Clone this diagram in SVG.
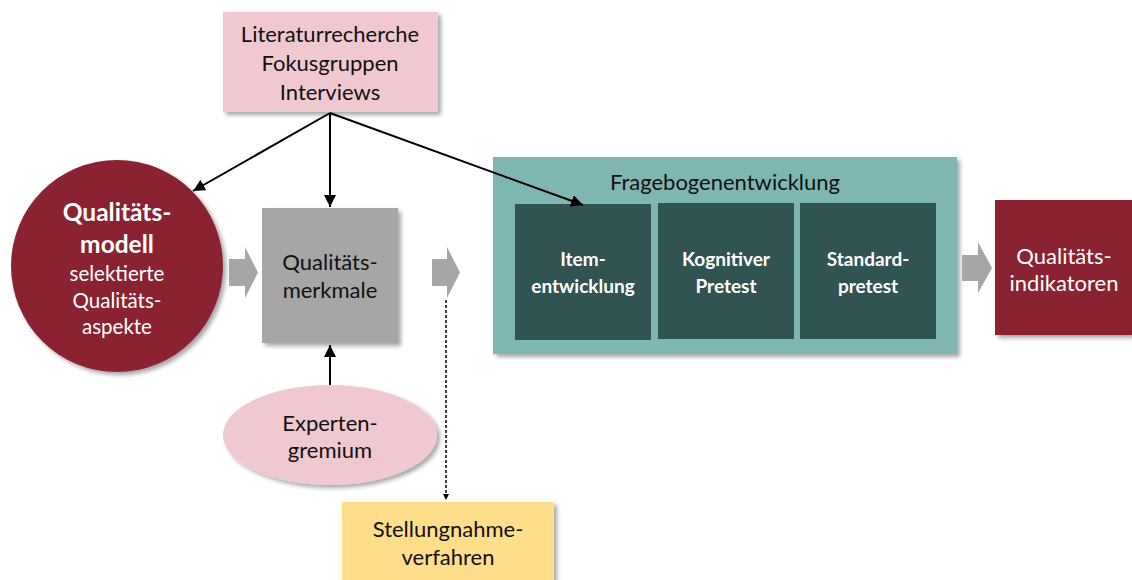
<svg xmlns="http://www.w3.org/2000/svg" width="1132" height="580" viewBox="0 0 1132 580">
<defs>
<filter id="sh" x="-10%" y="-10%" width="130%" height="130%">
<feGaussianBlur in="SourceAlpha" stdDeviation="2"/>
<feOffset dx="3" dy="3" result="b"/>
<feComponentTransfer><feFuncA type="linear" slope="0.35"/></feComponentTransfer>
<feMerge><feMergeNode/><feMergeNode in="SourceGraphic"/></feMerge>
</filter>
<marker id="ah" viewBox="0 0 10 10" refX="10" refY="5" markerWidth="6" markerHeight="6" markerUnits="userSpaceOnUse" orient="auto">
<path d="M0,0 L10,5 L0,10 z" fill="#000"/>
</marker>
<marker id="ah2" viewBox="0 0 10 10" refX="10" refY="5" markerWidth="12" markerHeight="12" markerUnits="userSpaceOnUse" orient="auto">
<path d="M0,0 L10,5 L0,10 z" fill="#000"/>
</marker>
</defs>
<style>
text{font-family:Lato,"Liberation Sans",sans-serif;text-anchor:middle}
.t{font-size:22px;fill:#111}
.w{font-size:22px;fill:#fff}
.b{font-size:19px;font-weight:bold;fill:#fff}
.c{stroke:#000;stroke-width:2;fill:none}
.g{fill:#a6a6a6}
</style>
<rect width="1132" height="580" fill="#fff"/>

<g id="quellen">
<rect x="223" y="12" width="215" height="100" fill="#f0c8cf" filter="url(#sh)"/>
<text class="t" x="330" y="42">Literaturrecherche</text>
<text class="t" x="330" y="71">Fokusgruppen</text>
<text class="t" x="330" y="100">Interviews</text>
</g>

<g id="qualitaetsmodell">
<circle cx="117" cy="266" r="106" fill="#8b2333" filter="url(#sh)"/>
<text x="117" y="221" style="font-size:24.5px;font-weight:bold;fill:#fff">Qualitäts-</text>
<text x="117" y="253" style="font-size:24.5px;font-weight:bold;fill:#fff">modell</text>
<text x="117" y="281" style="font-size:20.5px;fill:#fff">selektierte</text>
<text x="117" y="308" style="font-size:20.5px;fill:#fff">Qualitäts-</text>
<text x="117" y="334" style="font-size:20.5px;fill:#fff">aspekte</text>
</g>

<g id="merkmale">
<rect x="262" y="208" width="136" height="135" fill="#a6a6a6" filter="url(#sh)"/>
<text class="t" x="330" y="270">Qualitäts-</text>
<text class="t" x="330" y="298">merkmale</text>
</g>

<g id="experten">
<ellipse cx="330" cy="435" rx="107" ry="50" fill="#f0c8cf" filter="url(#sh)"/>
<text class="t" x="330" y="431">Experten-</text>
<text class="t" x="330" y="458">gremium</text>
</g>

<g id="fragebogen">
<rect x="493" y="157" width="464" height="197" fill="#7fb6b2" filter="url(#sh)"/>
<text class="t" x="725" y="190">Fragebogenentwicklung</text>
<g id="item">
<rect x="515" y="204" width="136" height="136" fill="#2f5452"/>
<text class="b" x="583" y="266">Item-</text>
<text class="b" x="583" y="293">entwicklung</text>
</g>
<g id="kognitiv">
<rect x="658" y="203" width="136" height="136" fill="#2f5452"/>
<text class="b" x="726" y="266">Kognitiver</text>
<text class="b" x="726" y="293">Pretest</text>
</g>
<g id="standard">
<rect x="800" y="203" width="136" height="136" fill="#2f5452"/>
<text class="b" x="868" y="266">Standard-</text>
<text class="b" x="868" y="293">pretest</text>
</g>
</g>

<g id="indikatoren">
<rect x="995" y="200" width="137" height="135" fill="#8b2333" filter="url(#sh)"/>
<text class="w" x="1064" y="264">Qualitäts-</text>
<text class="w" x="1064" y="291">indikatoren</text>
</g>

<g id="stellungnahme">
<rect x="342" y="502" width="212" height="90" fill="#fede8a" filter="url(#sh)"/>
<text class="t" x="448" y="537">Stellungnahme-</text>
<text class="t" x="448" y="565">verfahren</text>
</g>

<g id="connectors">
<path class="g" d="M229,259 H245 V247 L258,272.5 L245,298 V286 H229 z"/>
<path class="g" d="M432,259 H447 V247 L460,272.5 L447,298 V286 H432 z"/>
<path class="g" d="M962,255 H978 V242 L992,268 L978,293 V281 H962 z"/>
<line class="c" x1="330" y1="113" x2="193" y2="191" marker-end="url(#ah2)"/>
<line class="c" x1="330" y1="113" x2="330" y2="207" marker-end="url(#ah2)"/>
<line class="c" x1="330" y1="113" x2="583" y2="205" marker-end="url(#ah2)"/>
<line class="c" x1="330" y1="385" x2="330" y2="345" marker-end="url(#ah2)"/>
<line x1="446" y1="300" x2="446" y2="500" stroke="#000" stroke-width="1.5" stroke-dasharray="3,2" marker-end="url(#ah)"/>
</g>
</svg>
